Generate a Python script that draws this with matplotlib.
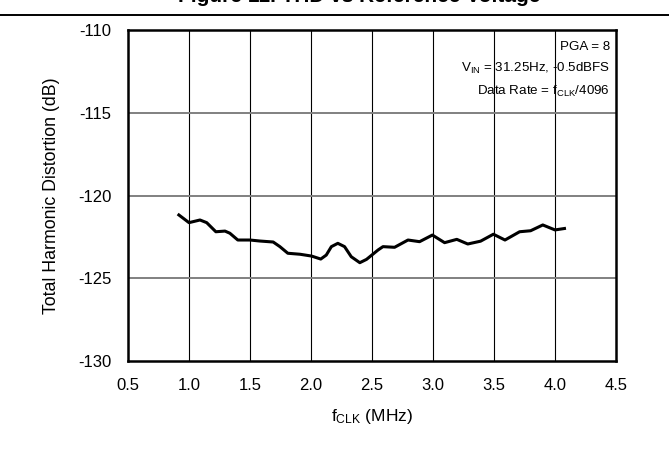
import matplotlib
matplotlib.use("Agg")
import matplotlib.pyplot as plt
from matplotlib.lines import Line2D

# THD vs f_CLK
fclk = [0.907, 1.00, 1.09, 1.145, 1.22, 1.295, 1.335, 1.40, 1.50, 1.58,
        1.69, 1.745, 1.81, 1.91, 2.005, 2.08, 2.125, 2.167, 2.22, 2.275,
        2.33, 2.40, 2.455, 2.55, 2.59, 2.685, 2.795, 2.89, 2.995, 3.095,
        3.195, 3.285, 3.39, 3.495, 3.59, 3.71, 3.80, 3.90, 4.00, 4.09]
thd = [-121.12, -121.64, -121.48, -121.64, -122.19, -122.15, -122.28, -122.69, -122.69, -122.75,
       -122.81, -123.09, -123.49, -123.55, -123.66, -123.84, -123.60, -123.09, -122.89, -123.09,
       -123.70, -124.06, -123.86, -123.29, -123.09, -123.13, -122.69, -122.79, -122.39, -122.85,
       -122.65, -122.93, -122.76, -122.34, -122.69, -122.19, -122.13, -121.78, -122.08, -121.98]

xticks = [0.5, 1.0, 1.5, 2.0, 2.5, 3.0, 3.5, 4.0, 4.5]
yticks = [-130, -125, -120, -115, -110]

plt.rcParams['font.family'] = ['Liberation Sans', 'DejaVu Sans']
plt.rcParams['mathtext.default'] = 'regular'

fig = plt.figure(figsize=(6.69, 4.66), dpi=100)
ax = fig.add_axes([128/669, 1 - 361/466, (616 - 128)/669, (361 - 30)/466])

ax.plot(fclk, thd, color='black', lw=2.2, solid_joinstyle='round', solid_capstyle='butt', zorder=3)

ax.set_xlim(0.5, 4.5)
ax.set_ylim(-130, -110)
ax.set_xticks(xticks)
ax.set_xticklabels([f"{v:.1f}" for v in xticks])
ax.set_yticks(yticks)
ax.set_yticklabels([str(v) for v in yticks])
ax.tick_params(length=0, labelsize=12, pad=12)

for v in xticks[1:-1]:
    ax.axvline(v, color='black', lw=0.8, zorder=1)
for v in yticks[1:-1]:
    ax.axhline(v, color='#808080', lw=1.4, zorder=1)
for s in ax.spines.values():
    s.set_linewidth(1.8)

ax.set_xlabel(r'f$_{CLK}$ (MHz)', fontsize=12.5, labelpad=10)
ax.set_ylabel('Total Harmonic Distortion (dB)', fontsize=12.8, labelpad=13)

ann = ["PGA = 8", r"V$_{IN}$ = 31.25Hz, -0.5dBFS", r"Data Rate = f$_{CLK}$/4096"]
for i, t in enumerate(ann):
    fig.text(610/669, 1 - (46.5 + 22.3*i)/466, t, ha='right', va='center', fontsize=9.6)

fig.text(359/669, 1 - 2.5/466, "Figure 11. THD vs Reference Voltage",
         ha='center', va='baseline', fontsize=15, fontweight='bold')
fig.add_artist(Line2D([0, 1], [1 - 15/466, 1 - 15/466], color='black', lw=1.4))

fig.savefig("out.png", dpi=100)
